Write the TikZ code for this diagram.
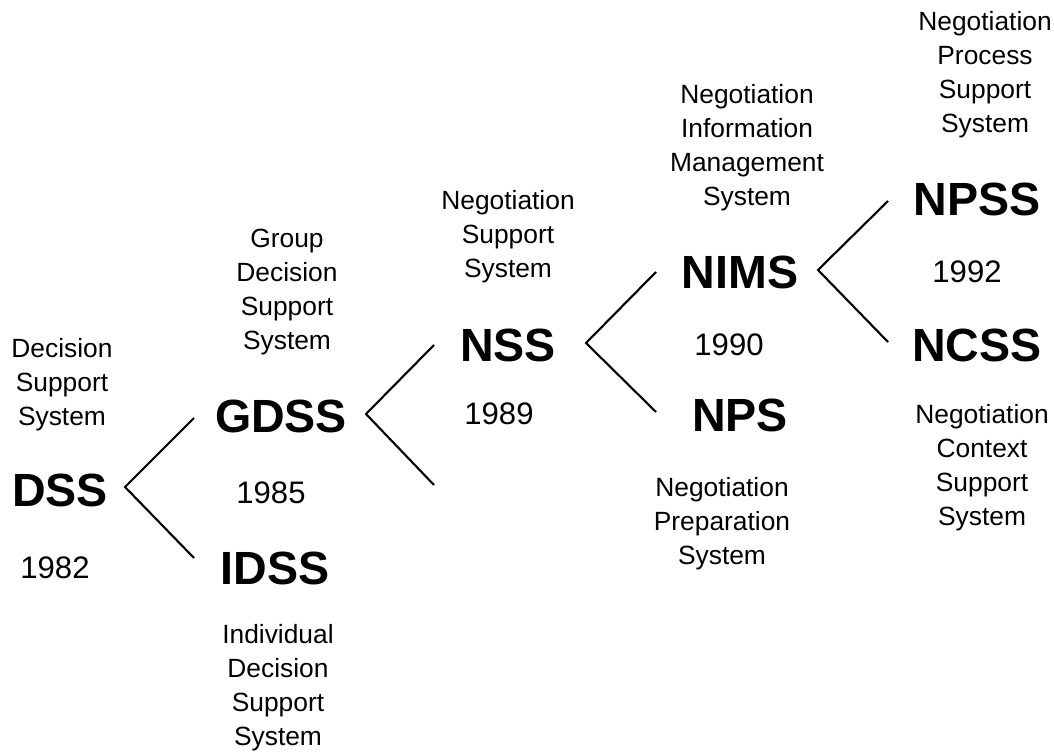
\documentclass[tikz,border=0pt]{standalone}
\usepackage{fontspec}
\setmainfont{Liberation Sans}
\tikzset{
	fullname/.style={align=center, inner sep=0pt, font=\fontsize{15}{19.4}\selectfont},
	acronym/.style={inner sep=0pt, font=\fontsize{26.5}{30}\selectfont\bfseries},
	year/.style={inner sep=0pt, font=\fontsize{17.7}{21}\selectfont},
	branch/.style={line width=1.2pt}
}
\begin{document}
\begin{tikzpicture}[x=0.2mm, y=-0.2mm]

	\useasboundingbox (0, 0) rectangle (1054, 755);

		\node[fullname] (dsstext) at(62, 385){Decision\\Support\\System};
		\node[acronym] (dss) at(60, 490){DSS};
		\node[year] (dssyear) at(55, 568){1982};

		\node[fullname] (gdsstext) at(287, 292){Group\\Decision\\Support\\System};
		\node[acronym] (gdss) at(281, 416){GDSS};
		\node[year] (gdssyear) at(271, 493){1985};

		\node[acronym] (idss) at(275, 568){IDSS};
		\node[fullname] (idsstext) at(278, 688){Individual\\Decision\\Support\\System};

		\node[fullname] (nsstext) at(508, 237){Negotiation\\Support\\System};
		\node[acronym] (nss) at(508, 345){NSS};
		\node[year] (nssyear) at(499, 414){1989};

		\node[fullname] (nimstext) at(747, 148){Negotiation\\Information\\Management\\System};
		\node[acronym] (nims) at(740, 272){NIMS};
		\node[year] (nimsyear) at(729, 345){1990};

		\node[acronym] (nps) at(740, 415){NPS};
		\node[fullname] (npstext) at(722, 524){Negotiation\\Preparation\\System};

		\node[fullname] (npsstext) at(985, 75){Negotiation\\Process\\Support\\System};
		\node[acronym] (npss) at(977, 199){NPSS};
		\node[year] (npssyear) at(967, 272){1992};

		\node[acronym] (ncss) at(977, 345){NCSS};
		\node[fullname] (ncsstext) at(982, 468){Negotiation\\Context\\Support\\System};


		\coordinate (dssfork) at(125, 487);
			\coordinate (dssup) at(194, 418);
			\coordinate (dssdown) at(194, 558);
		\coordinate (gdssfork) at(366, 414);
			\coordinate (gdssup) at(434, 345);
			\coordinate (gdssdown) at(434, 485);
		\coordinate (nssfork) at(586, 343);
			\coordinate (nssup) at(656, 272);
			\coordinate (nssdown) at(656, 412);
		\coordinate (nimsfork) at(818, 270);
			\coordinate (nimsup) at(888, 201);
			\coordinate (nimsdown) at(888, 342);

		\draw[branch] (dssup) -- (dssfork) -- (dssdown);
		\draw[branch] (gdssup) -- (gdssfork) -- (gdssdown);
		\draw[branch] (nssup) -- (nssfork) -- (nssdown);
		\draw[branch] (nimsup) -- (nimsfork) -- (nimsdown);

	\end{tikzpicture}
\end{document}
